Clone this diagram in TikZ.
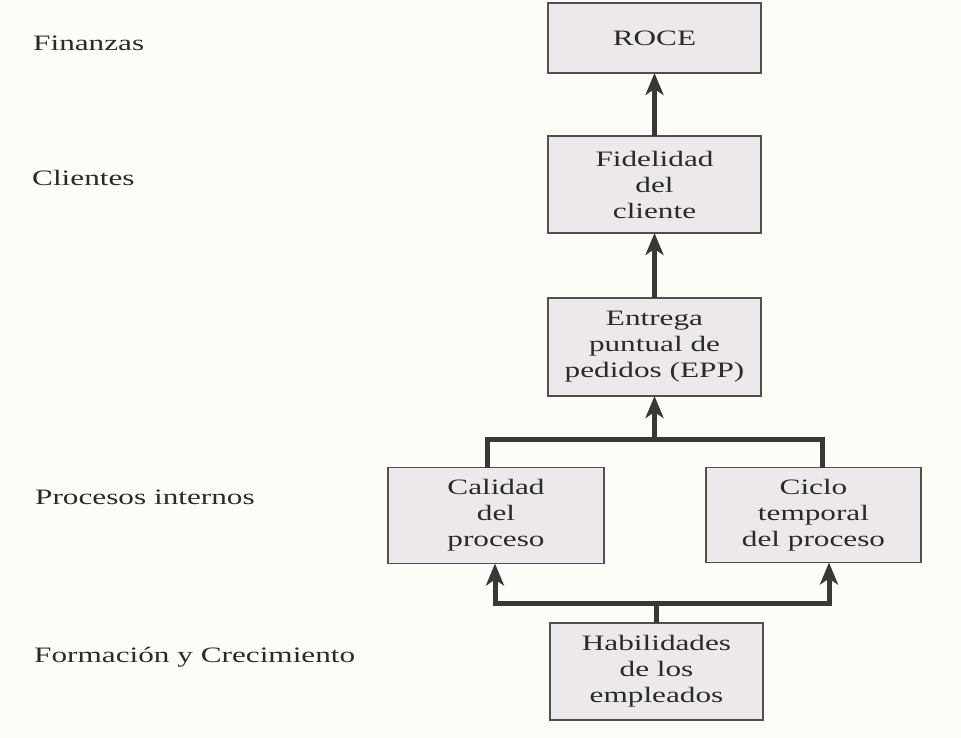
\documentclass[tikz,border=0pt]{standalone}
\usepackage{fontspec}
\setmainfont{Liberation Serif}[FakeStretch=1.42]
\usetikzlibrary{arrows.meta}
\definecolor{bgc}{HTML}{FDFCF6}
\definecolor{boxfill}{HTML}{ECE8EC}
\definecolor{boxline}{HTML}{505050}
\definecolor{linec}{HTML}{383838}
\definecolor{txtc}{HTML}{2A2A2A}
\begin{document}
\begin{tikzpicture}[x=1pt,y=-1pt,
  every node/.style={text=txtc, font=\fontsize{22}{26}\selectfont},
  kpibox/.style={draw=boxline, line width=1.4pt, fill=boxfill, align=center,
    inner sep=0pt, outer sep=0pt},
  lvl/.style={anchor=base west, inner sep=0pt},
  conn/.style={draw=linec, line width=5pt},
  tip/.style={-{Stealth[length=22pt,width=18pt,inset=6pt]}}]
\fill[bgc] (0,0) rectangle (961,738);
\useasboundingbox (0,0) rectangle (961,738);
% level labels
\node[lvl] (lf) at (33,51) {Finanzas};
\node[lvl] (lc) at (32,186) {Clientes};
\node[lvl] (lp) at (35,504) {Procesos internos};
\node[lvl] (lh) at (34,662) {Formación y Crecimiento};
% boxes
\node[kpibox, minimum width=213pt, minimum height=70pt] (roce) at (654.5,38) {ROCE};
\node[kpibox, minimum width=213pt, minimum height=97pt] (fid) at (654.5,184.5) {Fidelidad\\del\\cliente};
\node[kpibox, minimum width=213pt, minimum height=98pt] (epp) at (654.5,347) {Entrega\\puntual de\\pedidos (EPP)};
\node[kpibox, minimum width=216pt, minimum height=96pt] (cal) at (496,515.5) {Calidad\\del\\proceso};
\node[kpibox, minimum width=215pt, minimum height=95pt] (cic) at (813.5,515) {Ciclo\\temporal\\del proceso};
\node[kpibox, minimum width=213pt, minimum height=97pt] (hab) at (656.5,671.5) {Habilidades\\de los\\empleados};
% junctions
\coordinate (j1) at (654.5,439);
\coordinate (j2) at (656.5,603);
% connectors
\draw[conn, tip] (fid.north) -- (roce.south);
\draw[conn, tip] (epp.north) -- (fid.south);
\draw[conn] ([xshift=-9pt]cal.north) |- (j1) -| ([xshift=8.5pt]cic.north);
\draw[conn, tip] (j1) -- (epp.south);
\draw[conn] (hab.north) -- (j2);
\draw[conn, tip] (j2) -| ([xshift=-1pt]cal.south);
\draw[conn, tip] (j2) -| ([xshift=15.5pt]cic.south);
\end{tikzpicture}
\end{document}
